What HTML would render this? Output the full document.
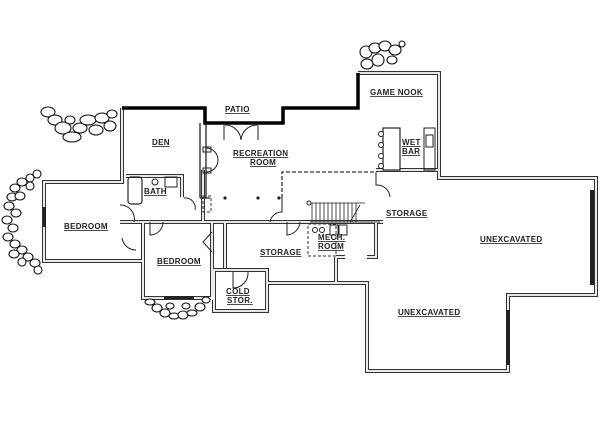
<!DOCTYPE html>
<html><head><style>
html,body{margin:0;padding:0;background:#fff;width:600px;height:422px;overflow:hidden}
svg{display:block}
text{font-family:"Liberation Sans",sans-serif;font-size:8px;font-weight:bold;fill:#222;text-decoration:underline;letter-spacing:0.3px}
</style></head><body>
<svg width="600" height="422" viewBox="0 0 600 422" xmlns="http://www.w3.org/2000/svg">
<defs>
<g id="walls" fill="none">
 <!-- den left wall, left bedroom -->
 <path d="M122 108 V182 H44 V261 H143 V298 H214"/>
 <!-- cold storage -->
 <path d="M214 270 H267 V311 H214 Z"/>
 <path d="M267 283 H367 V371 H508 V295 H596 V178 H439 V73 H358"/>
 <!-- interior -->
 <path d="M120 222 H383"/>
 <path d="M126 176 H182 V197"/>
 <path d="M203 170 V222"/>
 <path d="M143 222 V261"/>
 <path d="M225 222 V268"/>
 <path d="M212 222 V300"/>
 <path d="M376 170 H438"/>
 <path d="M336 257 V283"/>
 <path d="M367 257 H376 V222"/>
 <path d="M336 257 H345"/>
</g>
</defs>
<rect width="600" height="422" fill="#fff"/>
<use href="#walls" stroke="#333" stroke-width="4"/>
<use href="#walls" stroke="#fff" stroke-width="1.8"/>
<!-- thick black top wall -->
<path d="M122 108 H205 V123 H283 V108 H358 V73" fill="none" stroke="#000" stroke-width="3.5"/>
<!-- den right wall -->
<path d="M200 123 V198 M206 123 V198 M200 198 H210" fill="none" stroke="#222" stroke-width="1.3"/>
<rect x="203" y="196" width="8" height="16" fill="none" stroke="#333" stroke-dasharray="3,2"/>
<!-- closet arcs near den -->
<path d="M206 148 A12 12 0 0 1 206 172" fill="none" stroke="#222"/>
<rect x="203" y="147" width="8" height="5" fill="none" stroke="#222"/>
<rect x="203" y="168" width="8" height="5" fill="none" stroke="#222"/>
<!-- patio doors -->
<path d="M224 125 V140 M258 125 V140 M225 125 A16 16 0 0 1 241 140 M257 125 A16 16 0 0 0 241 140" fill="none" stroke="#222"/>
<!-- columns -->
<circle cx="225" cy="198" r="1.6" fill="#222"/><circle cx="258" cy="198" r="1.6" fill="#222"/><circle cx="279" cy="198" r="1.6" fill="#222"/>
<!-- dashed stair enclosure -->
<path d="M282 198 V172 H376" fill="none" stroke="#333" stroke-width="1.3" stroke-dasharray="4,2"/>
<path d="M282 198 V212 A12 12 0 0 0 270 222" fill="none" stroke="#222"/>
<path d="M287 222 V235 A14 14 0 0 0 300 222" fill="none" stroke="#222"/>
<!-- stairs -->
<g stroke="#222" stroke-width="0.8">
<path d="M312 203 H365 M310 222 H380"/>
<path d="M312 203 V222 M316 203 V222 M320 203 V222 M324 203 V222 M328 203 V222 M332 203 V222 M336 203 V222 M340 203 V222 M344 203 V222 M348 203 V222 M352 203 V222 M356 203 V222 M350 222 L360 205"/>
</g>
<circle cx="309" cy="203" r="2" fill="#fff" stroke="#222"/>
<!-- storage door -->
<path d="M376 172 V185 A13 13 0 0 1 390 197" fill="none" stroke="#222"/>
<!-- mech room dashed -->
<rect x="308" y="224" width="28" height="32" fill="none" stroke="#333" stroke-dasharray="3,2"/>
<rect x="330" y="225" width="8" height="10" fill="none" stroke="#222"/>
<rect x="339" y="225" width="8" height="10" fill="none" stroke="#222"/>
<circle cx="315" cy="230" r="2.5" fill="none" stroke="#222"/><circle cx="322" cy="230" r="2.5" fill="none" stroke="#222"/>
<!-- wet bar -->
<rect x="383" y="128" width="17" height="42" fill="#fff" stroke="#222" stroke-width="1.2"/>
<circle cx="381" cy="134" r="2.5" fill="#fff" stroke="#222"/><circle cx="381" cy="145" r="2.5" fill="#fff" stroke="#222"/><circle cx="381" cy="156" r="2.5" fill="#fff" stroke="#222"/><circle cx="381" cy="166" r="2.5" fill="#fff" stroke="#222"/>
<rect x="424" y="128" width="11" height="42" fill="none" stroke="#222"/>
<rect x="426" y="135" width="7" height="12" fill="none" stroke="#222"/>
<!-- bath fixtures -->
<rect x="128" y="177" width="14" height="27" rx="3" fill="none" stroke="#222" stroke-width="1.2"/>
<circle cx="155" cy="182" r="3" fill="none" stroke="#222"/>
<rect x="165" y="177" width="12" height="10" fill="none" stroke="#222"/>
<!-- door swings -->
<path d="M120 205 A14 14 0 0 1 134 222 M122 238 A14 14 0 0 0 136 250 M150 222 V235 A13 13 0 0 0 163 222 M184 198 A10 10 0 0 1 195 210" fill="none" stroke="#222"/>
<path d="M212 232 L203 242 L212 252" fill="none" stroke="#222"/>
<path d="M233 272 V288 A15 15 0 0 0 248 272" fill="none" stroke="#222"/>
<!-- windows -->
<rect x="43" y="207" width="3" height="20" fill="#222"/>
<rect x="164" y="296" width="30" height="3" fill="#222"/>
<rect x="590" y="190" width="4" height="95" fill="#222"/>
<rect x="506" y="310" width="4" height="55" fill="#222"/>
<!-- stones -->
<g fill="#fff" stroke="#111" stroke-width="1.1">
<ellipse cx="48" cy="112" rx="7" ry="5"/><ellipse cx="55" cy="120" rx="7" ry="5"/><ellipse cx="63" cy="128" rx="8" ry="6"/><ellipse cx="72" cy="137" rx="9" ry="5"/><ellipse cx="80" cy="128" rx="7" ry="5"/><ellipse cx="88" cy="120" rx="8" ry="5"/><ellipse cx="96" cy="130" rx="7" ry="5"/><ellipse cx="102" cy="118" rx="7" ry="5"/><ellipse cx="110" cy="126" rx="6" ry="5"/><ellipse cx="112" cy="114" rx="5" ry="4"/><ellipse cx="70" cy="120" rx="5" ry="4"/>
<ellipse cx="37" cy="174" rx="4" ry="4"/><ellipse cx="30" cy="178" rx="4" ry="4"/><ellipse cx="22" cy="182" rx="5" ry="4"/><ellipse cx="30" cy="186" rx="4" ry="4"/><ellipse cx="15" cy="188" rx="5" ry="4"/><ellipse cx="12" cy="197" rx="5" ry="4"/><ellipse cx="20" cy="196" rx="5" ry="4"/><ellipse cx="9" cy="206" rx="5" ry="4"/><ellipse cx="16" cy="213" rx="5" ry="4"/><ellipse cx="7" cy="220" rx="5" ry="4"/><ellipse cx="13" cy="228" rx="5" ry="4"/><ellipse cx="8" cy="237" rx="5" ry="4"/><ellipse cx="15" cy="244" rx="5" ry="4"/><ellipse cx="22" cy="250" rx="5" ry="4"/><ellipse cx="14" cy="254" rx="5" ry="4"/><ellipse cx="28" cy="257" rx="5" ry="4"/><ellipse cx="35" cy="263" rx="5" ry="4"/><ellipse cx="38" cy="270" rx="4" ry="4"/><ellipse cx="22" cy="262" rx="4" ry="4"/>
<ellipse cx="150" cy="302" rx="5" ry="3"/><ellipse cx="157" cy="308" rx="5" ry="4"/><ellipse cx="165" cy="313" rx="5" ry="4"/><ellipse cx="174" cy="316" rx="5" ry="3"/><ellipse cx="183" cy="315" rx="5" ry="4"/><ellipse cx="192" cy="313" rx="5" ry="3"/><ellipse cx="200" cy="307" rx="5" ry="4"/><ellipse cx="206" cy="300" rx="4" ry="3"/><ellipse cx="170" cy="306" rx="4" ry="3"/><ellipse cx="186" cy="306" rx="4" ry="3"/>
<ellipse cx="366" cy="52" rx="6" ry="6"/><ellipse cx="375" cy="48" rx="6" ry="5"/><ellipse cx="385" cy="46" rx="6" ry="5"/><ellipse cx="395" cy="50" rx="6" ry="5"/><ellipse cx="367" cy="64" rx="6" ry="5"/><ellipse cx="378" cy="60" rx="6" ry="6"/><ellipse cx="392" cy="60" rx="5" ry="4"/><ellipse cx="402" cy="44" rx="3" ry="3"/>
</g>
<!-- labels -->
<text x="225" y="112">PATIO</text>
<text x="370" y="95">GAME NOOK</text>
<text x="152" y="145">DEN</text>
<text x="233" y="156">RECREATION</text>
<text x="250" y="165">ROOM</text>
<text x="402" y="145">WET</text>
<text x="402" y="154">BAR</text>
<text x="144" y="194">BATH</text>
<text x="64" y="229">BEDROOM</text>
<text x="157" y="264">BEDROOM</text>
<text x="260" y="255">STORAGE</text>
<text x="386" y="216">STORAGE</text>
<text x="318" y="240">MECH.</text>
<text x="318" y="249">ROOM</text>
<text x="226" y="294">COLD</text>
<text x="227" y="303">STOR.</text>
<text x="480" y="242">UNEXCAVATED</text>
<text x="398" y="315">UNEXCAVATED</text>
</svg>
</body></html>
